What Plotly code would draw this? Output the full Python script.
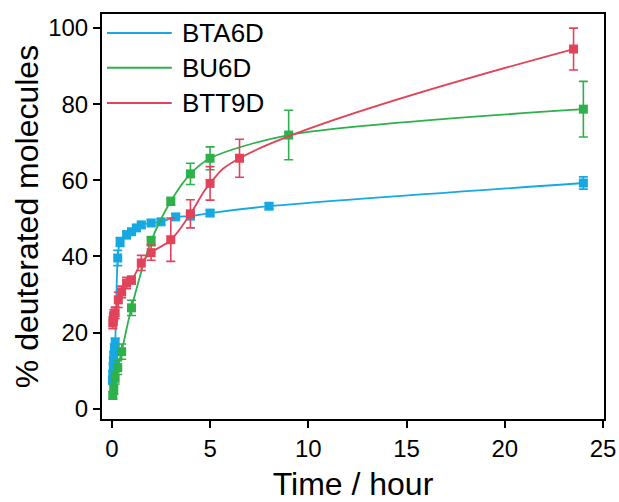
import plotly.graph_objects as go

# Deuteration kinetics: time (h) vs % deuterated molecules, mean ± error
bta6d_t = [0.03, 0.05, 0.07, 0.08, 0.1, 0.13, 0.17, 0.3, 0.42, 0.75, 1.0, 1.25, 1.5, 2.0, 2.5, 3.25, 4.0, 5.0, 8.0, 24.0]
bta6d_v = [7.5, 9.0, 11.0, 12.5, 14.0, 16.0, 17.5, 39.6, 43.8, 45.7, 46.5, 47.5, 48.3, 48.8, 49.1, 50.4, 50.6, 51.4, 53.2, 59.3]
bta6d_e = [1.0, 1.0, 1.0, 1.0, 1.0, 1.0, 1.0, 2.0, 1.2, 1.0, 0.8, 0.8, 0.8, 0.8, 0.8, 0.8, 0.8, 0.8, 0.8, 1.6]

bu6d_t = [0.05, 0.1, 0.17, 0.3, 0.5, 1.0, 2.0, 3.0, 4.0, 5.0, 9.0, 24.0]
bu6d_v = [3.5, 5.0, 8.0, 10.8, 15.0, 26.5, 44.0, 54.5, 61.7, 65.8, 71.9, 78.7]
bu6d_e = [1.0, 1.2, 1.5, 1.8, 2.0, 2.0, 1.2, 1.0, 2.8, 3.0, 6.5, 7.3]

btt9d_t = [0.05, 0.08, 0.1, 0.17, 0.33, 0.5, 0.75, 1.0, 1.5, 2.0, 3.0, 4.0, 5.0, 6.5, 23.5]
btt9d_v = [22.5, 23.5, 24.5, 25.2, 28.6, 30.7, 33.0, 33.8, 38.3, 41.0, 44.4, 51.2, 59.2, 65.8, 94.5]
btt9d_e = [1.5, 1.5, 1.5, 1.5, 2.0, 1.5, 1.5, 1.0, 2.0, 2.0, 5.7, 3.7, 4.4, 5.0, 5.5]

series_names = ["BTA6D", "BU6D", "BTT9D"]
series_colors = ["#16a9e1", "#2eb04b", "#e2435b"]
series_smoothing = [0.8, 0.8, 1.3]
series_data = [
    (bta6d_t, bta6d_v, bta6d_e),
    (bu6d_t, bu6d_v, bu6d_e),
    (btt9d_t, btt9d_v, btt9d_e),
]

x_ticks = [0, 5, 10, 15, 20, 25]
y_ticks = [0, 20, 40, 60, 80, 100]

FONT = "Liberation Sans, Arial, sans-serif"

fig = go.Figure()

for name, color, smooth, (t, v, e) in zip(series_names, series_colors,
                                          series_smoothing, series_data):
    fig.add_trace(go.Scatter(
        x=t, y=v, name=name, mode="lines+markers",
        line=dict(color=color, width=1.8, shape="spline", smoothing=smooth),
        marker=dict(symbol="square", size=9, color=color),
        error_y=dict(type="data", array=e, visible=True, color=color,
                     thickness=1.6, width=4.5),
        showlegend=False,
    ))

# Legend drawn as short line samples with labels in the upper-left corner
legend_rows = [0.953, 0.867, 0.780]
for name, color, yy in zip(series_names, series_colors, legend_rows):
    fig.add_shape(type="line", xref="paper", yref="paper",
                  x0=0.010, x1=0.139, y0=yy, y1=yy,
                  line=dict(color=color, width=2))
    fig.add_annotation(xref="paper", yref="paper", x=0.155, y=yy,
                       text=name, showarrow=False, xanchor="left",
                       yanchor="middle",
                       font=dict(family=FONT, size=26, color="black"))

axis_common = dict(
    showline=True, linecolor="black", linewidth=2, mirror=True,
    ticks="outside", ticklen=7, tickwidth=2, tickcolor="black",
    showgrid=False, zeroline=False, automargin=False,
    tickfont=dict(family=FONT, size=24, color="black"),
)

fig.update_xaxes(
    range=[-0.5, 25.05], tickvals=x_ticks,
    title=dict(text="Time / hour", font=dict(family=FONT, size=32, color="black"),
               standoff=19),
    **axis_common,
)
fig.update_yaxes(
    range=[-2.7, 103.7], tickvals=y_ticks,
    title=dict(text="% deuterated molecules",
               font=dict(family=FONT, size=32, color="black"), standoff=0),
    **axis_common,
)

fig.update_layout(
    width=619, height=502,
    margin=dict(l=102, r=15, t=14, b=83),
    paper_bgcolor="white", plot_bgcolor="white",
    font=dict(family=FONT, color="black"),
)

fig.write_html("out.html")
